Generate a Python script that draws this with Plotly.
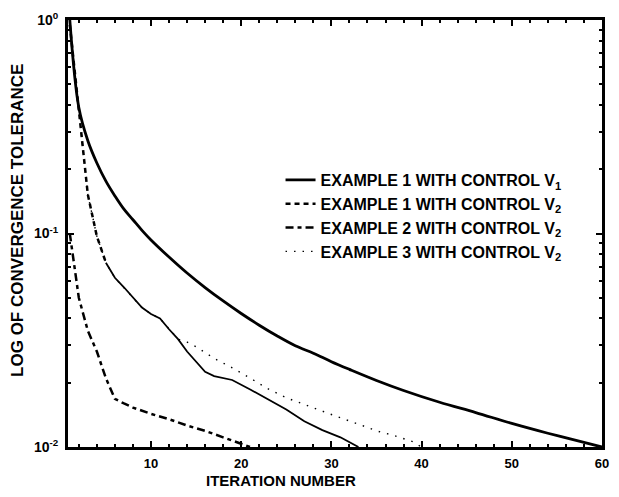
import plotly.graph_objects as go

# ---- data ----
ex1_v1_x = [1, 2, 3, 4, 5, 6, 7, 8, 9, 10, 12, 14, 16, 18, 20, 22, 24, 26, 28, 30, 32, 35, 38, 42, 46, 50, 54, 58, 60]
ex1_v1_y = [1.0, 0.389, 0.272, 0.214, 0.176, 0.150, 0.130, 0.116, 0.1035, 0.0933, 0.0776, 0.0653, 0.0558,
            0.0483, 0.0422, 0.0372, 0.0331, 0.0298, 0.0275, 0.0251, 0.0231, 0.0205, 0.0184, 0.0162,
            0.0145, 0.0129, 0.0116, 0.0105, 0.0100]

ex1_v2_x = [1, 2, 3, 4, 5, 6, 7, 8, 9, 10, 11, 12, 13, 14, 15, 16, 17, 19, 21, 23, 25, 27, 29, 31, 32, 33]
ex1_v2_y = [0.95, 0.37, 0.152, 0.097, 0.073, 0.062, 0.056, 0.050, 0.045, 0.042, 0.040, 0.0356, 0.032,
            0.028, 0.025, 0.0225, 0.0215, 0.0206, 0.0186, 0.0167, 0.015, 0.0132, 0.012, 0.0111, 0.0105, 0.0100]

ex2_v2_x = [1, 2, 3, 4, 5, 6, 7, 8, 10, 12, 14, 16, 18, 20, 21]
ex2_v2_y = [0.10, 0.05, 0.035, 0.028, 0.021, 0.0168, 0.016, 0.0153, 0.0143, 0.0135, 0.0126, 0.0119,
            0.0111, 0.0104, 0.0100]

ex3_v2_x = [1, 2, 3, 4, 5, 6, 7, 8, 9, 10, 11, 12, 13, 14, 15, 17, 19, 21, 23, 25, 27, 29, 31, 33, 35, 37, 39, 40]
ex3_v2_y = [0.95, 0.37, 0.152, 0.097, 0.073, 0.062, 0.056, 0.050, 0.045, 0.042, 0.040, 0.0356, 0.032,
            0.031, 0.0295, 0.026, 0.0235, 0.021, 0.0187, 0.017, 0.0158, 0.0148, 0.0137, 0.0128, 0.0119,
            0.0113, 0.0106, 0.0100]

labels = ["EXAMPLE 1 WITH CONTROL V<sub>1</sub>",
          "EXAMPLE 1 WITH CONTROL V<sub>2</sub>",
          "EXAMPLE 2 WITH CONTROL V<sub>2</sub>",
          "EXAMPLE 3 WITH CONTROL V<sub>2</sub>"]

x_ticks = [10, 20, 30, 40, 50, 60]
y_ticks = [1, 0.1, 0.01]
y_ticktext = ["10<sup>0</sup>", "10<sup>-1</sup>", "10<sup>-2</sup>"]
x_title = "ITERATION NUMBER"
y_title = "LOG OF CONVERGENCE TOLERANCE"

FONT = "Liberation Sans, Arial, sans-serif"

fig = go.Figure()

fig.add_trace(go.Scatter(x=ex1_v1_x, y=ex1_v1_y, mode="lines", name=labels[0],
                         line=dict(color="black", width=2.8), line_shape="spline"))

# dashed where iterations are sparse, continuous once steps get dense (as in the scan)
split = ex1_v2_x.index(5)
fig.add_trace(go.Scatter(x=ex1_v2_x[:split + 1], y=ex1_v2_y[:split + 1], mode="lines", name=labels[1],
                         legendgroup="e12", line=dict(color="black", width=2.5, dash="5px,4px")))
fig.add_trace(go.Scatter(x=ex1_v2_x[split:], y=ex1_v2_y[split:], mode="lines", name=labels[1],
                         legendgroup="e12", showlegend=False, line=dict(color="black", width=1.8)))

fig.add_trace(go.Scatter(x=ex2_v2_x, y=ex2_v2_y, mode="lines", name=labels[2],
                         line=dict(color="black", width=2.5, dash="8px,4px,4px,4px")))

fig.add_trace(go.Scatter(x=ex3_v2_x, y=ex3_v2_y, mode="lines", name=labels[3],
                         line=dict(color="black", width=1.4, dash="1.5px,7px")))

fig.update_layout(
    width=619, height=497,
    margin=dict(l=68, r=10, t=12, b=50),
    paper_bgcolor="white", plot_bgcolor="white",
    font=dict(family=FONT, size=15, color="black", weight="bold"),
    showlegend=True,
    legend=dict(x=0.398, y=0.665, xanchor="left", yanchor="top", bgcolor="rgba(0,0,0,0)",
                font=dict(family=FONT, size=16, color="black", weight="bold"),
                tracegroupgap=0, itemwidth=30),
    annotations=[
        dict(text=x_title, xref="paper", yref="paper", x=(284 - 68) / 541, y=-0.0775,
             xanchor="center", yanchor="middle", showarrow=False,
             font=dict(family=FONT, size=15, color="black", weight="bold")),
        dict(text=y_title, xref="paper", yref="paper", x=(17 - 68) / 541, y=0.531,
             xanchor="center", yanchor="middle", showarrow=False, textangle=-90,
             font=dict(family=FONT, size=17, color="black", weight="bold")),
    ],
)

fig.update_xaxes(
    range=[0.8, 60], tickvals=x_ticks, ticks="inside", ticklen=6, tickwidth=2, tickcolor="black",
    showline=True, linewidth=3, linecolor="black", mirror="allticks", showgrid=False, zeroline=False,
    minor=dict(ticks="inside", ticklen=3, tickwidth=1.5, dtick=2, tick0=0, tickcolor="black", showgrid=False),
    ticklabelstandoff=2,
    tickfont=dict(family=FONT, size=13, color="black", weight="bold"),
)

fig.update_yaxes(
    type="log", range=[-2, 0], tickvals=y_ticks, ticktext=y_ticktext, ticks="inside", ticklen=6,
    tickwidth=2, tickcolor="black",
    showline=True, linewidth=3, linecolor="black", mirror="allticks", showgrid=False, zeroline=False,
    minor=dict(ticks="inside", ticklen=3, tickwidth=1.5, tickcolor="black", showgrid=False,
               tickvals=[0.02, 0.03, 0.04, 0.05, 0.06, 0.07, 0.08, 0.09,
                         0.2, 0.3, 0.4, 0.5, 0.6, 0.7, 0.8, 0.9]),
    ticklabelstandoff=4,
    tickfont=dict(family=FONT, size=14, color="black", weight="bold"),
)

fig.write_html("out.html")
